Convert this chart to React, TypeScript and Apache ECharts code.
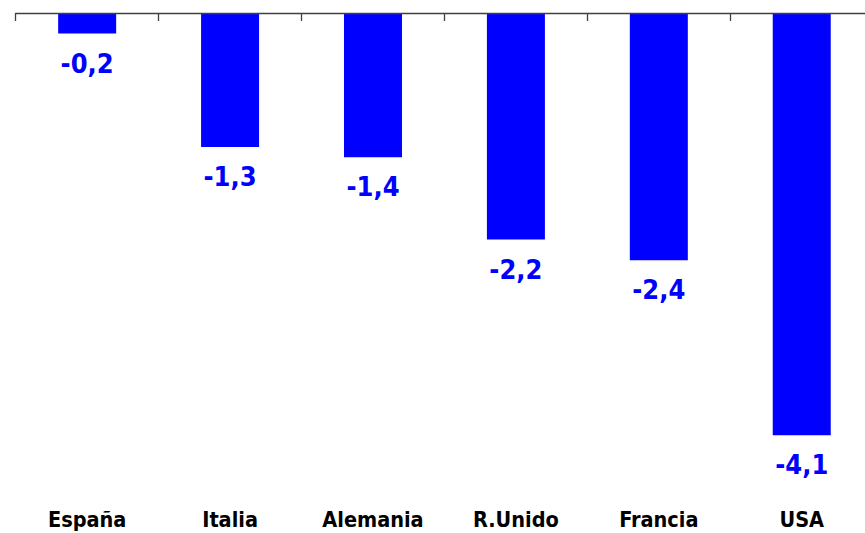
import React, { useEffect, useRef } from "react";
import * as echarts from "echarts";

const categories = ["España", "Italia", "Alemania", "R.Unido", "Francia", "USA"];
const values = [-0.2, -1.3, -1.4, -2.2, -2.4, -4.1];
const yMin = -4.6;
const yMax = 0;

const FONT = "'DejaVu Sans Condensed', 'DejaVu Sans', sans-serif";

export default function App() {
  const ref = useRef<HTMLDivElement>(null);
  useEffect(() => {
    if (!ref.current) return;
    const chart = echarts.init(ref.current, undefined, { renderer: "svg" });
    chart.setOption({
      animation: false,
      backgroundColor: "#ffffff",
      grid: { left: 15.7, right: 6.8, top: 13, bottom: 46.2, containLabel: false },
      xAxis: [
        {
          type: "category",
          data: categories,
          position: "top",
          z: 5,
          axisLine: { show: true, onZero: false, lineStyle: { color: "#404040", width: 1.3 } },
          axisTick: { show: true, inside: true, length: 8, lineStyle: { color: "#404040", width: 1.3 } },
          axisLabel: { show: false },
          splitLine: { show: false },
        },
        {
          type: "category",
          data: categories,
          position: "bottom",
          axisLine: { show: false, onZero: false },
          axisTick: { show: false },
          axisLabel: {
            show: true,
            margin: 22,
            color: "#000000",
            fontFamily: FONT,
            fontWeight: "bold",
            fontSize: 21.5,
          },
          splitLine: { show: false },
        },
      ],
      yAxis: {
        type: "value",
        min: yMin,
        max: yMax,
        show: false,
        splitLine: { show: false },
      },
      series: [
        {
          type: "bar",
          xAxisIndex: 0,
          data: values,
          barWidth: 58,
          itemStyle: { color: "#0000ff" },
          label: {
            show: true,
            position: "bottom",
            distance: 16,
            color: "#0000ff",
            fontFamily: FONT,
            fontWeight: "bold",
            fontSize: 27,
            formatter: (p: any) => String(p.value).replace(".", ","),
          },
        },
      ],
    });
    return () => chart.dispose();
  }, []);
  return (
    <div
      style={{ position: "fixed", left: 0, top: 0, width: 865, height: 533, overflow: "hidden", background: "#fff" }}
    >
      <div ref={ref} style={{ width: 880, height: 533 }} />
    </div>
  );
}
